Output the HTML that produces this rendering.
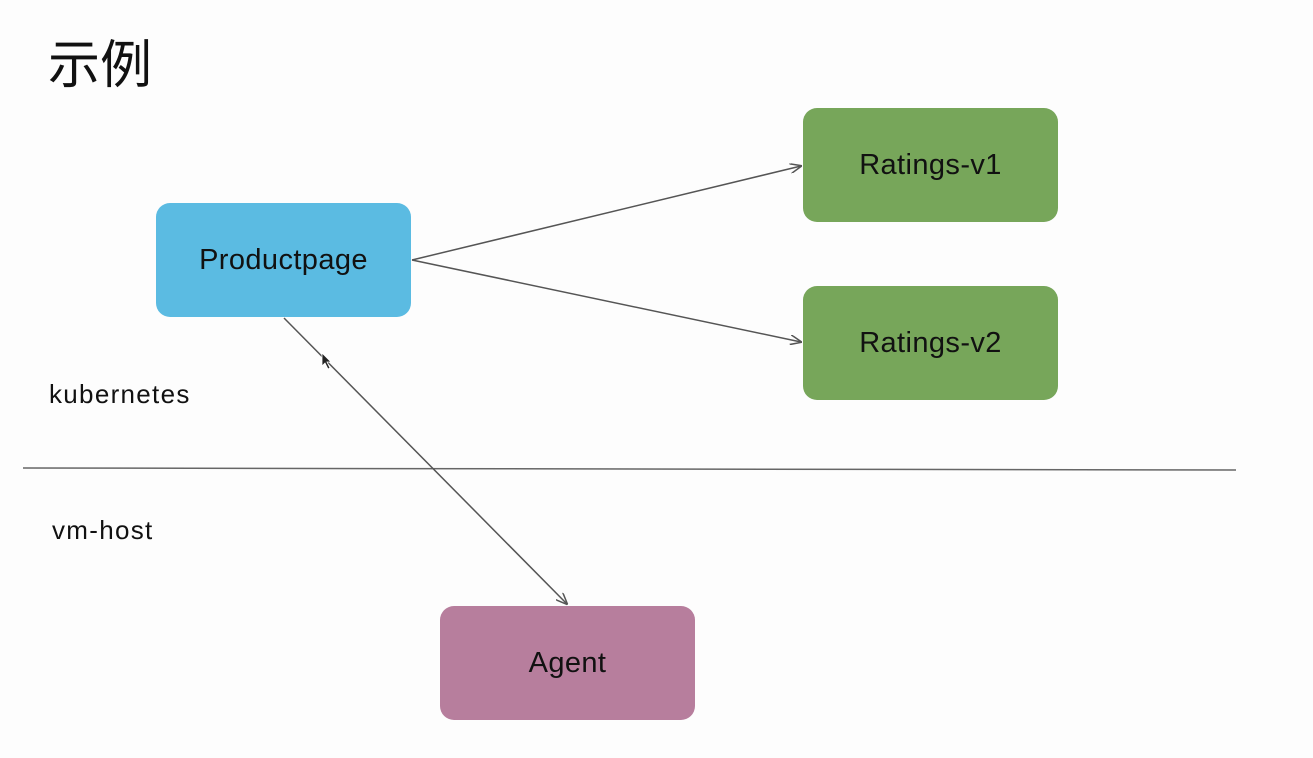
<!DOCTYPE html>
<html><head><meta charset="utf-8"><style>
body{margin:0;width:1313px;height:758px;background:#fdfdfd;position:relative;overflow:hidden;font-family:"Liberation Sans","Noto Sans CJK SC",sans-serif;}
.t{position:absolute;color:#111;white-space:nowrap}
.b{position:absolute;border-radius:14px;display:flex;align-items:center;justify-content:center;font-size:29px;letter-spacing:0.4px;color:#111}
</style></head><body>
<div class="t" style="left:48px;top:23px;font-size:52px;">示例</div>
<div class="t" style="left:49px;top:379px;font-size:26px;letter-spacing:1.3px;">kubernetes</div>
<div class="t" style="left:52px;top:515px;font-size:26px;letter-spacing:1.3px;">vm-host</div>
<div class="b" style="left:156px;top:203px;width:255px;height:114px;background:#5bbbe2;">Productpage</div>
<div class="b" style="left:803px;top:108px;width:255px;height:114px;background:#77a65a;">Ratings-v1</div>
<div class="b" style="left:803px;top:286px;width:255px;height:114px;background:#77a65a;">Ratings-v2</div>
<div class="b" style="left:440px;top:606px;width:255px;height:114px;background:#b77e9d;">Agent</div>
<svg width="1313" height="758" style="position:absolute;left:0;top:0">
<defs><marker id="a" markerWidth="12" markerHeight="10" refX="11" refY="5" orient="auto" markerUnits="userSpaceOnUse"><path d="M0,0 L12,5 L0,10" fill="none" stroke="#555" stroke-width="1.5"/></marker></defs>
<line x1="23" y1="468" x2="1236" y2="470" stroke="#666" stroke-width="1.5"/>
<line x1="412" y1="260" x2="801" y2="166" stroke="#555" stroke-width="1.5" marker-end="url(#a)"/>
<line x1="412" y1="260" x2="801" y2="342" stroke="#555" stroke-width="1.5" marker-end="url(#a)"/>
<line x1="284" y1="318" x2="567" y2="604" stroke="#555" stroke-width="1.5" marker-end="url(#a)"/>
<path d="M322,353 L322,366 L325,363 L328,369 L330,368 L327,362 L331,362 Z" fill="#222" stroke="#fff" stroke-width="0.8"/>
</svg>
</body></html>
